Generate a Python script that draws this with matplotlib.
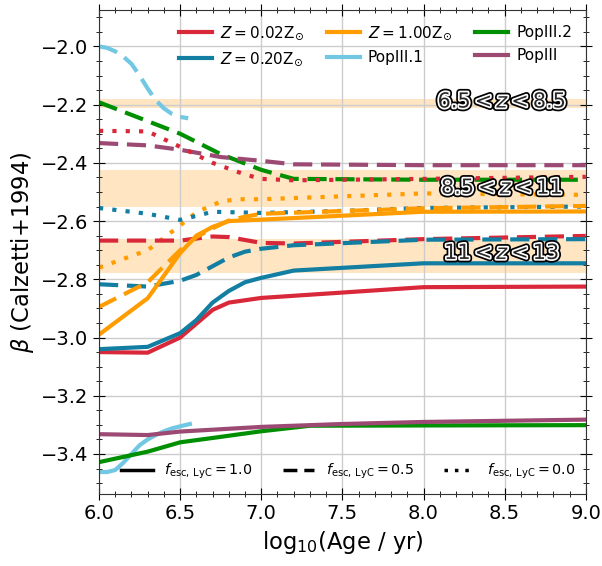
import matplotlib
matplotlib.use("Agg")
import matplotlib.pyplot as plt
import matplotlib.patheffects as pe
from matplotlib.lines import Line2D
from matplotlib.ticker import MultipleLocator

# Colours of the models
C_Z002 = "#d8283a"
C_Z020 = "#127ea2"
C_Z100 = "#ff9c00"
C_POP31 = "#72c8e2"
C_POP32 = "#008f00"
C_POP3 = "#9c4a74"

# fesc = 1.0 (solid)
age_z002_s = [6.0, 6.3, 6.5, 6.7, 6.8, 7.0, 8.0, 9.0]
beta_z002_s = [-3.05, -3.052, -3.0, -2.905, -2.88, -2.864, -2.827, -2.825]
age_z020_s = [6.0, 6.3, 6.5, 6.6, 6.7, 6.8, 6.9, 7.0, 7.2, 8.0, 9.0]
beta_z020_s = [-3.04, -3.032, -2.985, -2.94, -2.88, -2.84, -2.81, -2.795, -2.77, -2.745, -2.745]
age_z100_s = [6.0, 6.3, 6.5, 6.6, 6.7, 6.8, 7.0, 8.0, 9.0]
beta_z100_s = [-2.99, -2.865, -2.71, -2.65, -2.62, -2.60, -2.595, -2.568, -2.567]
age_pop31_s = [6.0, 6.05, 6.1, 6.15, 6.2, 6.25, 6.3, 6.35, 6.4, 6.45, 6.5, 6.56]
beta_pop31_s = [-3.462, -3.462, -3.455, -3.43, -3.40, -3.37, -3.35, -3.335, -3.322, -3.312, -3.305, -3.297]
age_pop32_s = [6.0, 6.3, 6.5, 6.7, 7.0, 7.3, 8.0, 9.0]
beta_pop32_s = [-3.428, -3.392, -3.36, -3.345, -3.322, -3.303, -3.302, -3.301]
age_pop3_s = [6.0, 6.3, 6.5, 7.0, 7.5, 8.0, 9.0]
beta_pop3_s = [-3.332, -3.335, -3.323, -3.307, -3.297, -3.29, -3.282]

# fesc = 0.5 (dashed)
age_z002_d = [6.0, 6.5, 6.7, 6.8, 7.0, 7.2, 8.0, 9.0]
beta_z002_d = [-2.667, -2.667, -2.653, -2.655, -2.675, -2.677, -2.662, -2.651]
age_z020_d = [6.0, 6.3, 6.5, 6.6, 6.7, 6.8, 6.9, 7.0, 7.2, 8.0, 9.0]
beta_z020_d = [-2.817, -2.825, -2.805, -2.785, -2.755, -2.725, -2.705, -2.695, -2.683, -2.664, -2.662]
age_z100_d = [6.0, 6.3, 6.5, 6.6, 6.7, 6.8, 6.9, 7.0, 8.0, 9.0]
beta_z100_d = [-2.895, -2.81, -2.70, -2.655, -2.625, -2.598, -2.585, -2.575, -2.556, -2.548]
age_pop31_d = [6.0, 6.05, 6.1, 6.15, 6.2, 6.25, 6.3, 6.35, 6.4, 6.45, 6.5, 6.55]
beta_pop31_d = [-2.0, -2.005, -2.017, -2.035, -2.06, -2.10, -2.145, -2.185, -2.213, -2.232, -2.242, -2.247]
age_pop32_d = [6.0, 6.5, 6.75, 7.0, 7.2, 8.0, 9.0]
beta_pop32_d = [-2.192, -2.30, -2.37, -2.424, -2.455, -2.458, -2.458]
age_pop3_d = [6.0, 6.3, 6.5, 6.75, 7.0, 7.2, 8.0, 9.0]
beta_pop3_d = [-2.332, -2.34, -2.355, -2.38, -2.393, -2.405, -2.408, -2.408]

# fesc = 0.0 (dotted)
age_z002_o = [6.0, 6.3, 6.5, 6.7, 6.9, 7.0, 7.2, 8.0, 9.0]
beta_z002_o = [-2.29, -2.292, -2.345, -2.40, -2.44, -2.455, -2.46, -2.455, -2.448]
age_z020_o = [6.0, 6.3, 6.5, 6.7, 7.0, 7.5, 8.0, 9.0]
beta_z020_o = [-2.555, -2.575, -2.596, -2.568, -2.572, -2.565, -2.555, -2.55]
age_z100_o = [6.0, 6.1, 6.3, 6.5, 6.6, 6.75, 6.85, 7.0, 7.5, 8.0, 9.0]
beta_z100_o = [-2.76, -2.74, -2.70, -2.615, -2.57, -2.533, -2.525, -2.525, -2.515, -2.505, -2.51]

# Observed beta ranges per redshift bin
band_labels = ["$6.5 < z < 8.5$", "$8.5 < z < 11$", "$11 < z < 13$"]
band_lo = [-2.21, -2.553, -2.78]
band_hi = [-2.18, -2.426, -2.662]
band_text_y = [-2.19, -2.486, -2.71]
band_text_x = [8.88, 8.86, 8.84]

LW = 3
DASH = (0, (4.6, 2.1))
DOT = (0, (1, 2.2))

fig = plt.figure(figsize=(6.02, 5.66), dpi=100)
ax = fig.add_axes([0.1645, 0.1272, 0.8085, 0.8551])

for lo, hi in zip(band_lo, band_hi):
    ax.axhspan(lo, hi, color="#ff9f1c", alpha=0.27, lw=0, zorder=0)

ax.plot(age_pop32_d, beta_pop32_d, color=C_POP32, lw=LW, ls=DASH)
ax.plot(age_pop3_d, beta_pop3_d, color=C_POP3, lw=LW, ls=DASH)
ax.plot(age_z002_o, beta_z002_o, color=C_Z002, lw=LW, ls=DOT)
ax.plot(age_z100_o, beta_z100_o, color=C_Z100, lw=LW, ls=DOT)
ax.plot(age_z020_o, beta_z020_o, color=C_Z020, lw=LW, ls=DOT)
ax.plot(age_z002_d, beta_z002_d, color=C_Z002, lw=LW, ls=DASH)
ax.plot(age_z020_d, beta_z020_d, color=C_Z020, lw=LW, ls=DASH)
ax.plot(age_z100_d, beta_z100_d, color=C_Z100, lw=LW, ls=DASH)
ax.plot(age_pop31_d, beta_pop31_d, color=C_POP31, lw=LW, ls=DASH)

h1, = ax.plot(age_z002_s, beta_z002_s, color=C_Z002, lw=LW)
h2, = ax.plot(age_z020_s, beta_z020_s, color=C_Z020, lw=LW)
h3, = ax.plot(age_z100_s, beta_z100_s, color=C_Z100, lw=LW)
h4, = ax.plot(age_pop31_s, beta_pop31_s, color=C_POP31, lw=LW)
h5, = ax.plot(age_pop32_s, beta_pop32_s, color=C_POP32, lw=LW)
h6, = ax.plot(age_pop3_s, beta_pop3_s, color=C_POP3, lw=LW)

for lab, tx, ty in zip(band_labels, band_text_x, band_text_y):
    ax.text(tx, ty, lab, ha="right", va="center", fontsize=15, color="0.15", zorder=5,
            path_effects=[pe.Stroke(linewidth=5, foreground="black"),
                          pe.Stroke(linewidth=2.5, foreground="white"), pe.Normal()])

leg1 = ax.legend([h1, h2, h3, h4, h5, h6],
                 [r"$Z = 0.02\mathrm{Z}_{\odot}$", r"$Z = 0.20\mathrm{Z}_{\odot}$",
                  r"$Z = 1.00\mathrm{Z}_{\odot}$", "PopIII.1", "PopIII.2", "PopIII"],
                 ncol=3, loc="upper right", bbox_to_anchor=(1.0, 1.0), frameon=False,
                 fontsize=11, handlelength=2.2, handletextpad=0.5, columnspacing=1.5,
                 labelspacing=0.55)
ax.add_artist(leg1)

esc_handles = [Line2D([], [], color="black", lw=2.5, ls="-"),
               Line2D([], [], color="black", lw=2.5, ls=(0, (4, 2))),
               Line2D([], [], color="black", lw=2.5, ls=(0, (1, 2)))]
ax.legend(esc_handles,
          [r"$f_{\rm esc,\,LyC} = 1.0$", r"$f_{\rm esc,\,LyC} = 0.5$", r"$f_{\rm esc,\,LyC} = 0.0$"],
          ncol=3, loc="lower center", bbox_to_anchor=(0.512, 0.0), frameon=False,
          fontsize=10.3, handlelength=2.2, handletextpad=0.8, columnspacing=2.1)

ax.set_xlim(6.0, 9.0)
ax.set_ylim(-3.5375, -1.875)
ax.xaxis.set_major_locator(MultipleLocator(0.5))
ax.xaxis.set_minor_locator(MultipleLocator(0.1))
ax.yaxis.set_major_locator(MultipleLocator(0.2))
ax.yaxis.set_minor_locator(MultipleLocator(0.05))
ax.tick_params(which="both", direction="inout", top=True, right=True, labelsize=14)
ax.tick_params(which="major", length=8)
ax.tick_params(which="minor", length=4)
ax.grid(True, which="major", color="#cccccc", lw=1)
ax.set_axisbelow(True)
for s in ax.spines.values():
    s.set_color("#333333")

ax.set_xlabel(r"$\mathrm{log}_{10}$(Age / yr)", fontsize=16.3)
ax.set_ylabel(r"$\beta$ (Calzetti+1994)", fontsize=16.3)

fig.savefig("out.png", dpi=100)
